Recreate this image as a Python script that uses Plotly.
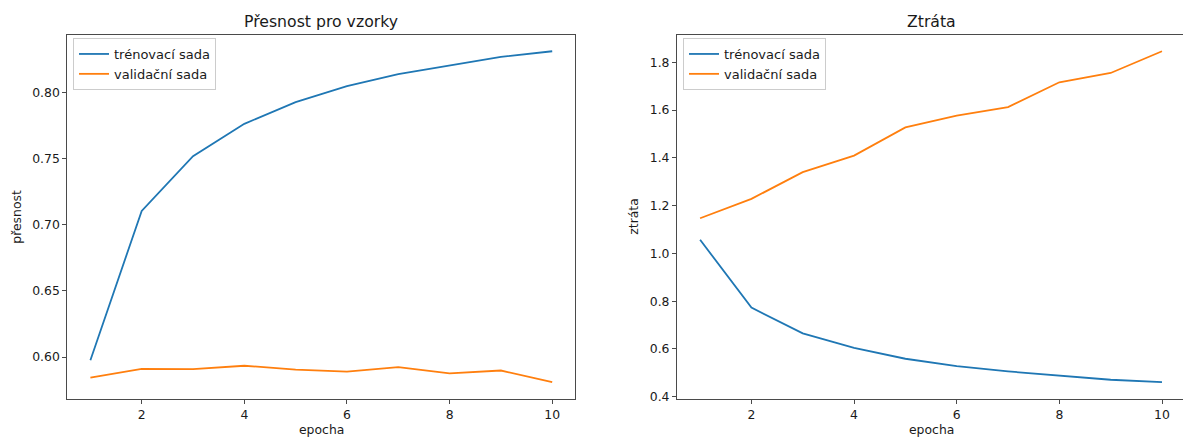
import plotly.graph_objects as go

W, H = 1183, 437

# training history per epoch
epochs = [1, 2, 3, 4, 5, 6, 7, 8, 9, 10]
acc_train = [0.5977, 0.7104, 0.7518, 0.7762, 0.7926, 0.8046, 0.8137, 0.8205, 0.8268, 0.8310]
acc_val = [0.5846, 0.5912, 0.5909, 0.5935, 0.5906, 0.5891, 0.5924, 0.5877, 0.5899, 0.5811]
loss_train = [1.057, 0.773, 0.665, 0.604, 0.559, 0.528, 0.506, 0.487, 0.471, 0.461]
loss_val = [1.147, 1.228, 1.340, 1.409, 1.527, 1.577, 1.612, 1.716, 1.755, 1.846]

series_names = ["trénovací sada", "validační sada"]
titles = ["Přesnost pro vzorky", "Ztráta"]
y_labels = ["přesnost", "ztráta"]
x_label = "epocha"

BLUE = "#1f77b4"
ORANGE = "#ff7f0e"
TEXT = "#1a1a1a"
SPINE = "#4a4a4a"
FONT = "DejaVu Sans"
TICK_SIZE = 12.4
LEGEND_SIZE = 13
TITLE_SIZE = 15.7


def px_x(v):
    return v / W


def px_y(v):
    return 1 - v / H


def padded(lo, hi, frac=0.05):
    span = hi - lo
    return [lo - span * frac, hi + span * frac]


# plot-area placement in pixels
L1, R1 = 67.3, 575.3
L2, R2 = 677.0, 1183.0
TOP, BOT = 34.7, 398.7

fig = go.Figure()

fig.add_trace(go.Scatter(x=epochs, y=acc_train, mode="lines", name=series_names[0],
                         line=dict(color=BLUE, width=1.8), xaxis="x", yaxis="y", legend="legend"))
fig.add_trace(go.Scatter(x=epochs, y=acc_val, mode="lines", name=series_names[1],
                         line=dict(color=ORANGE, width=1.8), xaxis="x", yaxis="y", legend="legend"))
fig.add_trace(go.Scatter(x=epochs, y=loss_train, mode="lines", name=series_names[0],
                         line=dict(color=BLUE, width=1.8), xaxis="x2", yaxis="y2", legend="legend2"))
fig.add_trace(go.Scatter(x=epochs, y=loss_val, mode="lines", name=series_names[1],
                         line=dict(color=ORANGE, width=1.8), xaxis="x2", yaxis="y2", legend="legend2"))

x_range1 = padded(min(epochs), max(epochs))
# right panel runs slightly past the page edge: last epoch sits at x=1162 px
x_lo2 = x_range1[0]
x_hi2 = x_lo2 + (max(epochs) - x_lo2) * (R2 - L2) / (1162.0 - L2)

axis_common = dict(
    showgrid=False, zeroline=False, showline=True, linecolor=SPINE, linewidth=1,
    ticks="outside", ticklen=4, tickwidth=1, tickcolor=SPINE,
    tickfont=dict(family=FONT, size=TICK_SIZE, color=TEXT), automargin=False,
)

legend_common = dict(
    xanchor="left", yanchor="top",
    bgcolor="rgba(255,255,255,0.8)", bordercolor="#cccccc", borderwidth=1,
    font=dict(family=FONT, size=LEGEND_SIZE, color=TEXT), tracegroupgap=0, itemwidth=30,
)

fig.update_layout(
    width=W, height=H,
    margin=dict(l=0, r=0, t=0, b=0),
    paper_bgcolor="white", plot_bgcolor="white",
    font=dict(family=FONT, color=TEXT),
    xaxis=dict(domain=[px_x(L1), px_x(R1)], range=x_range1, tickmode="linear",
               tick0=0, dtick=2, mirror=True, anchor="y", **axis_common),
    yaxis=dict(domain=[px_y(BOT), px_y(TOP)], range=padded(min(acc_val), max(acc_train)),
               tickmode="linear", tick0=0.6, dtick=0.05, tickformat=".2f",
               mirror=True, anchor="x", **axis_common),
    xaxis2=dict(domain=[px_x(L2), 1.0], range=[x_lo2, x_hi2], tickmode="linear",
                tick0=0, dtick=2, mirror=True, anchor="y2", **axis_common),
    yaxis2=dict(domain=[px_y(BOT), px_y(TOP)], range=padded(min(loss_train), max(loss_val)),
                tickmode="linear", tick0=0.4, dtick=0.2, tickformat=".1f",
                mirror=False, anchor="x2", **axis_common),
    legend=dict(x=px_x(73), y=px_y(38), **legend_common),
    legend2=dict(x=px_x(683), y=px_y(38), **legend_common),
)

annotations = []
# panel titles
for title, cx in zip(titles, [(L1 + R1) / 2, (L2 + 1185) / 2]):
    annotations.append(dict(text=title, x=px_x(cx), y=px_y(22), xref="paper", yref="paper",
                            xanchor="center", yanchor="middle", showarrow=False,
                            font=dict(family=FONT, size=TITLE_SIZE, color=TEXT)))
# x-axis labels
for cx in [(L1 + R1) / 2, (L2 + 1185) / 2]:
    annotations.append(dict(text=x_label, x=px_x(cx), y=px_y(429), xref="paper", yref="paper",
                            xanchor="center", yanchor="middle", showarrow=False,
                            font=dict(family=FONT, size=TICK_SIZE, color=TEXT)))
# y-axis labels
for label, cx in zip(y_labels, [17, 634]):
    annotations.append(dict(text=label, x=px_x(cx), y=px_y((TOP + BOT) / 2), xref="paper",
                            yref="paper", xanchor="center", yanchor="middle", showarrow=False,
                            textangle=-90, font=dict(family=FONT, size=TICK_SIZE, color=TEXT)))
fig.update_layout(annotations=annotations)

fig.write_html("out.html")
